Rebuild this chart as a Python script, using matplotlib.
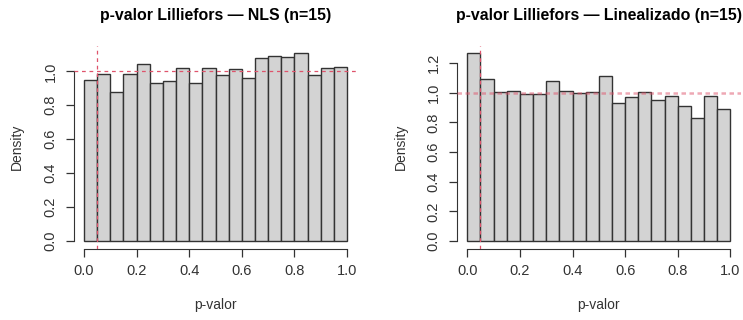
import numpy as np
import matplotlib
matplotlib.use("Agg")
import matplotlib.pyplot as plt

plt.rcParams['font.family'] = ['Liberation Sans', 'DejaVu Sans']

# bins of the two histograms (width 0.05 from 0 to 1)
bin_left = [0.00, 0.05, 0.10, 0.15, 0.20, 0.25, 0.30, 0.35, 0.40, 0.45,
            0.50, 0.55, 0.60, 0.65, 0.70, 0.75, 0.80, 0.85, 0.90, 0.95]
bin_width = 0.05

# densities
dens_nls = [0.949, 0.986, 0.880, 0.986, 1.043, 0.929, 0.943, 1.022, 0.929, 1.018,
            0.978, 1.012, 0.963, 1.077, 1.091, 1.085, 1.108, 0.978, 1.018, 1.028]
dens_lin = [1.268, 1.092, 1.005, 1.014, 0.989, 0.989, 1.077, 1.011, 0.998, 1.007,
            1.110, 0.932, 0.968, 1.007, 0.953, 0.975, 0.910, 0.833, 0.975, 0.890]

titles = ["p-valor Lilliefors \u2014 NLS (n=15)",
          "p-valor Lilliefors \u2014 Linealizado (n=15)"]
xticks = [0.0, 0.2, 0.4, 0.6, 0.8, 1.0]
yticks_nls = [0.0, 0.2, 0.4, 0.6, 0.8, 1.0]
yticks_lin = [0.0, 0.2, 0.4, 0.6, 0.8, 1.0, 1.2]
alpha_line = 0.05

red = '#DF536B'
dark = '#333333'

fig = plt.figure(figsize=(7.43, 3.2), dpi=100)
ax1 = fig.add_axes([73.5 / 743, 1 - 248.5 / 320, 284 / 743, 203 / 320])
ax2 = fig.add_axes([456.8 / 743, 1 - 248.5 / 320, 284 / 743, 203 / 320])


def r_hist(ax, dens, yticks, title):
    ax.bar(bin_left, dens, width=bin_width, align='edge', color='#D3D3D3',
           edgecolor=dark, linewidth=1.0, zorder=2)
    ymax = max(dens)
    ax.set_xlim(-0.04, 1.04)
    ax.set_ylim(-0.04 * ymax, 1.04 * ymax)
    for s in ['top', 'right']:
        ax.spines[s].set_visible(False)
    ax.spines['left'].set_bounds(yticks[0], yticks[-1])
    ax.spines['bottom'].set_bounds(xticks[0], xticks[-1])
    ax.spines['left'].set_color(dark)
    ax.spines['bottom'].set_color(dark)
    ax.set_xticks(xticks)
    ax.set_xticklabels(["%.1f" % v for v in xticks])
    ax.set_yticks(yticks)
    ax.set_yticklabels(["%.1f" % v for v in yticks], rotation=90, va='center')
    ax.tick_params(length=5.5, width=0.9, color=dark, labelcolor=dark,
                   labelsize=10.5, pad=6)
    ax.set_xlabel("p-valor", fontsize=10, color=dark, labelpad=14)
    ax.set_ylabel("Density", fontsize=10, color=dark, labelpad=14)
    ax.set_title(title, fontsize=11.4, fontweight='bold', pad=18.5)


r_hist(ax1, dens_nls, yticks_nls, titles[0])
r_hist(ax2, dens_lin, yticks_lin, titles[1])

# reference lines
ax1.axvline(alpha_line, color=red, lw=0.9, linestyle=(0, (3, 3)), zorder=3)
ax1.axhline(1.0, color=red, lw=0.9, linestyle=(0, (3, 3)), zorder=3)
ax2.axvline(alpha_line, color=red, lw=0.9, linestyle=(0, (3, 3)), zorder=3)
ax2.axhline(1.0, color=red, lw=1.8, alpha=0.5, linestyle=(0, (1.8, 1.4)), zorder=3)

fig.savefig("out.png", dpi=100)
